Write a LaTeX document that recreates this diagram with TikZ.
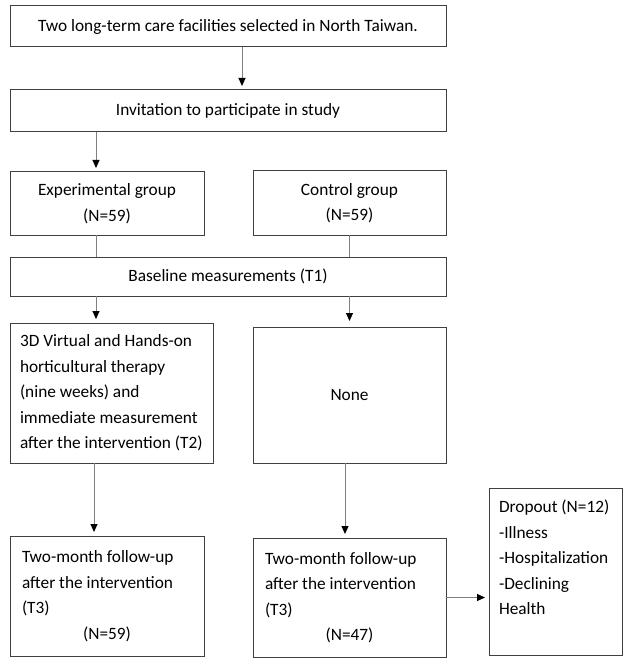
\documentclass[tikz,border=0pt]{standalone}
\usepackage{fontspec}
\setmainfont{Carlito}
\usepackage{tikz}
\usetikzlibrary{arrows.meta,positioning}
\hyphenpenalty=10000

\begin{document}
\begin{tikzpicture}[
    x=1pt, y=-1pt,
    font=\fontsize{17.3}{25.5}\selectfont,
    block/.style={rectangle, draw=black!75, line width=1pt, outer sep=0pt, inner sep=0pt, align=center},
    listblock/.style={block, align=flush left, inner xsep=12pt},
    arrow/.style={line width=1pt, draw=black!50, -{Triangle[length=8pt, width=7pt, color=black, fill=black]}, shorten >=4pt},
    link/.style={line width=1pt, draw=black!50}
]
\useasboundingbox (0,0) rectangle (637,668);

% Recruitment
\node[block, minimum width=436pt, minimum height=41pt] (facilities) at (228,26.5) {Two long-term care facilities selected in North Taiwan.};
\node[block, minimum width=436pt, minimum height=42pt] (invitation) at (228,111) {Invitation to participate in study};

% Groups
\node[block, minimum width=194pt, minimum height=63pt] (experimental) at (107,203.5) {Experimental group\\(N=59)};
\node[block, minimum width=193pt, minimum height=64pt] (control) at (349.5,203) {Control group\\(N=59)};

% Baseline
\node[block, minimum width=436pt, minimum height=39pt] (baseline) at (228,276.5) {Baseline measurements (T1)};

% Intervention
\node[listblock, inner xsep=10pt, text width=183pt, minimum width=203pt, minimum height=140pt] (therapy) at (111.5,393) {3D Virtual and Hands-on\\horticultural therapy\\(nine weeks) and\\immediate measurement\\\mbox{after the intervention (T2)}};
\node[block, minimum width=193pt, minimum height=136pt] (none) at (349.5,395) {None};

% Follow-up
\node[listblock, text width=170pt, minimum width=194pt, minimum height=120pt] (followexp) at (107,596) {Two-month follow-up\\after the intervention\\(T3)\\\makebox[\hsize]{(N=59)}};
\node[listblock, text width=169pt, minimum width=193pt, minimum height=119pt] (followctl) at (349.5,597.5) {Two-month follow-up\\after the intervention\\(T3)\\\makebox[\hsize]{(N=47)}};

% Dropout
\node[listblock, inner xsep=10pt, text width=113pt, minimum width=133pt, minimum height=167pt] (dropout) at (555.5,571.5) {Dropout (N=12)\\-Illness\\-Hospitalization\\-Declining\\Health\\[3pt]\mbox{}};

% Arrows
\coordinate (a1) at ([xshift=14pt]facilities.south);
\draw[arrow] (a1) -- (a1 |- invitation.north);
\coordinate (a2) at ([xshift=-11pt]experimental.north);
\draw[arrow] (a2 |- invitation.south) -- (a2);
\coordinate (l1) at ([xshift=-11pt]experimental.south);
\draw[link] (l1) -- (l1 |- baseline.north);
\draw[link] (control.south) -- (control.south |- baseline.north);
\coordinate (b1) at ([xshift=-15.5pt]therapy.north);
\draw[arrow] (b1 |- baseline.south) -- (b1);
\draw[arrow, shorten >=6pt] (none.north |- baseline.south) -- (none.north);
\coordinate (c1) at ([xshift=-17.5pt]therapy.south);
\draw[arrow] (c1) -- (c1 |- followexp.north);
\coordinate (c2) at ([xshift=-4.5pt]none.south);
\draw[arrow] (c2) -- (c2 |- followctl.north);
\draw[arrow] (followctl.east) -- (followctl.east -| dropout.west);

\end{tikzpicture}
\end{document}
